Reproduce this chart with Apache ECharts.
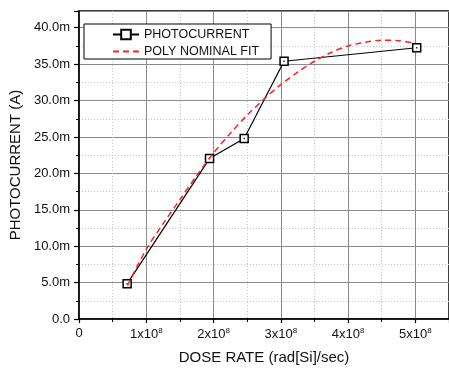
<!DOCTYPE html>
<html>
<head>
<meta charset="utf-8">
<script src="https://cdn.jsdelivr.net/npm/echarts@6/dist/echarts.min.js"></script>
<style>
  html, body { margin: 0; padding: 0; background: #fff; }
  #chart { width: 449px; height: 370px; }
</style>
</head>
<body>
<div id="chart"></div>
<script>
// measured points (dose rate in rad[Si]/sec, current in mA)
const doseRate = [0.715e8, 1.94e8, 2.455e8, 3.048e8, 5.02e8];
const photocurrent = [4.83, 22.03, 24.78, 35.4, 37.25];

// poly fit curve
const fitDose = [0.72e8, 1.0e8, 1.25e8, 1.5e8, 1.75e8, 2.0e8, 2.25e8, 2.5e8, 2.75e8,
  3.0e8, 3.25e8, 3.5e8, 3.75e8, 4.0e8, 4.25e8, 4.5e8, 4.75e8, 5.0e8];
const fitCurrent = [4.6, 9.6, 13.1, 16.4, 19.7, 22.8, 25.5, 28.0, 30.2,
  32.2, 33.9, 35.4, 36.6, 37.5, 38.0, 38.3, 38.2, 37.9];

const seriesNames = ['PHOTOCURRENT', 'POLY NOMINAL FIT'];

const font = 'Liberation Sans, Arial, sans-serif';
const zip = (a, b) => a.map((v, i) => [v, b[i]]);

const myChart = echarts.init(document.getElementById('chart'));
const option = {
  backgroundColor: '#fff',
  animation: false,
  grid: {
    left: 76, top: 11, right: -2, bottom: 50,
    show: true,
    borderColor: '#000',
    borderWidth: 1.5
  },
  legend: {
    left: 84, top: 24,
    orient: 'vertical',
    backgroundColor: '#fff',
    borderColor: '#000',
    borderWidth: 1,
    borderRadius: 0,
    padding: [4, 12, 1, 28],
    itemWidth: 26,
    itemHeight: 12,
    itemGap: 4,
    textStyle: { fontFamily: font, fontSize: 12.5, color: '#111' },
    data: [
      { name: seriesNames[0] },
      { name: seriesNames[1], itemStyle: { opacity: 0 } }
    ]
  },
  xAxis: {
    type: 'value',
    min: 0, max: 5.5e8, interval: 1e8,
    name: 'DOSE RATE (rad[Si]/sec)',
    nameLocation: 'middle',
    nameGap: 31,
    nameTextStyle: { fontFamily: font, fontSize: 15, color: '#111' },
    axisLine: { lineStyle: { color: '#000', width: 1.5 } },
    axisTick: { inside: false, length: 4, lineStyle: { color: '#000', width: 1.2 } },
    minorTick: { show: true, splitNumber: 2, length: 3, lineStyle: { color: '#000' } },
    splitLine: { show: true, lineStyle: { color: '#8a8a8a', width: 1 } },
    minorSplitLine: { show: true, lineStyle: { color: '#c8c8c8', type: [1, 2], width: 1 } },
    axisLabel: {
      margin: 8,
      fontFamily: font,
      fontSize: 13,
      color: '#111',
      showMaxLabel: false,
      formatter: function (v) {
        if (v === 0) return '0';
        return '{n|' + Math.round(v / 1e8) + 'x10}{s|8}';
      },
      rich: {
        n: { fontFamily: font, fontSize: 13, color: '#111' },
        s: { fontFamily: font, fontSize: 8, color: '#111', verticalAlign: 'top', padding: [0, 0, 6, 0] }
      }
    }
  },
  yAxis: {
    type: 'value',
    min: 0, max: 42.3, interval: 5,
    name: 'PHOTOCURRENT (A)',
    nameLocation: 'middle',
    nameGap: 53,
    nameTextStyle: { fontFamily: font, fontSize: 15, color: '#111' },
    axisLine: { show: true, lineStyle: { color: '#000', width: 1.5 } },
    axisTick: { show: true, length: 5, lineStyle: { color: '#000', width: 1.2 } },
    minorTick: { show: true, splitNumber: 2, length: 3, lineStyle: { color: '#000' } },
    splitLine: { show: true, lineStyle: { color: '#8a8a8a', width: 1 } },
    minorSplitLine: { show: true, lineStyle: { color: '#c8c8c8', type: [1, 2], width: 1 } },
    axisLabel: {
      margin: 9,
      fontFamily: font,
      fontSize: 13,
      color: '#111',
      showMaxLabel: false,
      formatter: function (v) {
        if (v === 0) return '0.0';
        return v.toFixed(1) + 'm';
      }
    }
  },
  series: [
    {
      name: seriesNames[0],
      type: 'line',
      data: zip(doseRate, photocurrent),
      symbol: 'rect',
      symbolSize: 8,
      showSymbol: true,
      lineStyle: { color: '#000', width: 1.2 },
      itemStyle: { color: '#fff', borderColor: '#000', borderWidth: 1.5 },
      z: 2
    },
    {
      name: 'dots',
      type: 'scatter',
      data: zip(doseRate, photocurrent),
      symbol: 'rect',
      symbolSize: 1.5,
      itemStyle: { color: '#000' },
      silent: true,
      z: 3
    },
    {
      name: seriesNames[1],
      type: 'line',
      data: zip(fitDose, fitCurrent),
      smooth: 0.3,
      showSymbol: false,
      symbol: 'none',
      lineStyle: { color: '#ff2020', width: 1.5, type: [6, 4] },
      itemStyle: { color: '#ff2020' },
      z: 4
    }
  ]
};
myChart.setOption(option);
</script>
</body>
</html>
